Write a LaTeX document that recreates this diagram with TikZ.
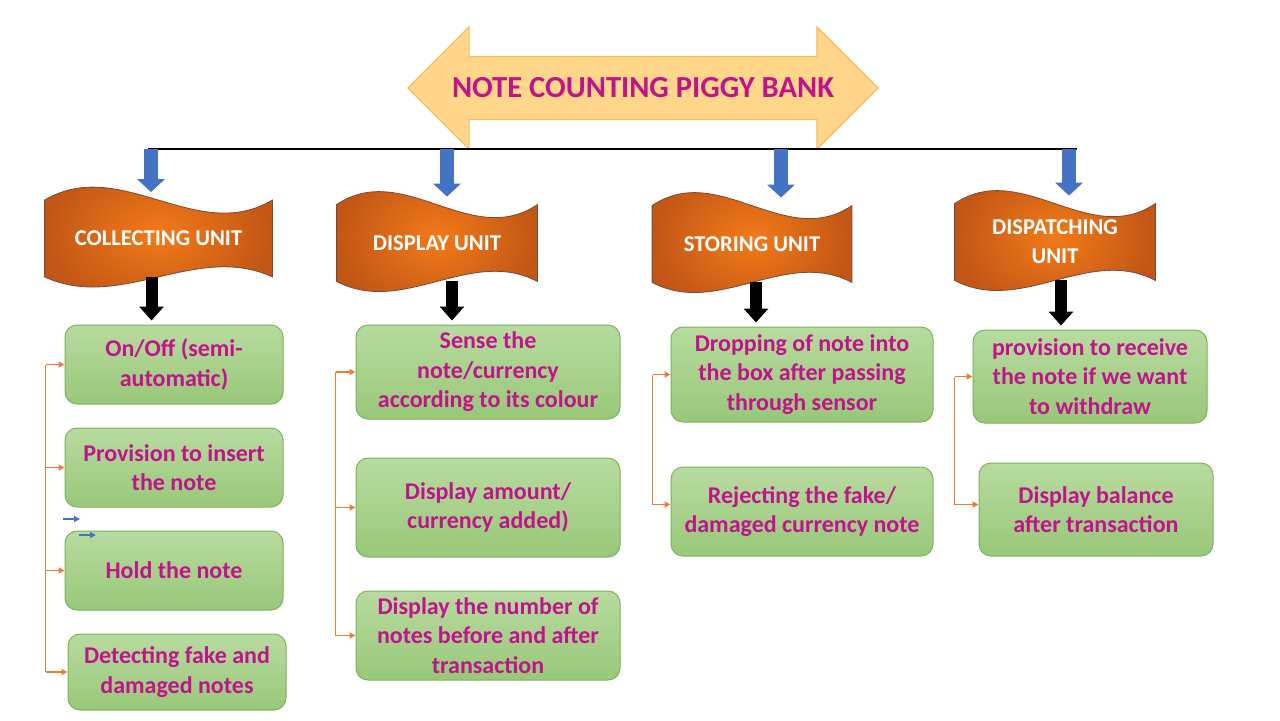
\documentclass[tikz,border=0pt]{standalone}
\usepackage{fontspec}
\setmainfont{Carlito}
\usepackage{tikz}
\usetikzlibrary{positioning,arrows.meta,shapes.arrows,calc,backgrounds}

\definecolor{notepink}{HTML}{C0148C}
\definecolor{titlefill}{HTML}{FFD68A}
\definecolor{titleline}{HTML}{F2BE5C}
\definecolor{unitlight}{HTML}{F27A18}
\definecolor{unitdark}{HTML}{C25616}
\definecolor{unitline}{HTML}{7A4A34}
\definecolor{boxtop}{HTML}{B8DBA0}
\definecolor{boxbottom}{HTML}{99C879}
\definecolor{boxline}{HTML}{7DB25C}
\definecolor{railblue}{HTML}{4472C4}
\definecolor{tieorange}{HTML}{ED7D31}

\tikzset{
  title/.style={double arrow, double arrow head extend=14.75pt,
    minimum height=235pt, inner ysep=11pt, inner xsep=4pt,
    text height=9pt, text depth=0pt, fill=titlefill, draw=titleline,
    line width=0.6pt, text=notepink, font=\bfseries\fontsize{15.3}{18}\selectfont},
  unit/.style={minimum height=38pt, inner sep=0pt, text=white, align=center,
    font=\bfseries\fontsize{11.3}{14.5}\selectfont},
  unitwave/.style={shade, inner color=unitlight, outer color=unitdark,
    draw=unitline, line width=0.4pt},
  task/.style={draw=boxline, line width=0.5pt, rounded corners=6pt,
    top color=boxtop, bottom color=boxbottom, text=notepink, align=center,
    inner sep=2pt, font=\bfseries\fontsize{12}{14.75}\selectfont},
  down/.style={line width=7pt, railblue, shorten >=4pt,
    -{Triangle[length=6.5pt,width=13.5pt]}},
  drop/.style={line width=6pt, black, shorten >=2pt,
    -{Triangle[length=7pt,width=12pt]}},
  tie/.style={tieorange, line width=0.7pt},
  tiearrow/.style={tie, -{Triangle[length=3pt,width=3pt]}},
  stray/.style={railblue, line width=0.7pt, -{Triangle[length=3pt,width=3pt]}}
}

\begin{document}
\begin{tikzpicture}[x=0.5pt,y=-0.5pt]
\useasboundingbox (0,0) rectangle (1280,720);

% title and rail
\node[title] (bank) at (643,88) {NOTE COUNTING PIGGY BANK};
\coordinate (rail-w) at (148,149);
\coordinate (rail-e) at (1077,149);
\draw[line width=1pt] (rail-w) -- (rail-e);

% units
\node[unit, minimum width=113.5pt] (u1) at (158.5,238.5) {COLLECTING UNIT};
\node[unit, minimum width=100pt] (u2) at (437,243) {DISPLAY UNIT};
\node[unit, minimum width=99.5pt] (u3) at (752,244) {STORING UNIT};
\node[unit, minimum width=100pt] (u4) at (1055,242) {DISPATCHING\\UNIT};

\begin{scope}[on background layer]
\fill[white] (0,0) rectangle (1280,720);
\foreach \u in {u1,u2,u3,u4}
  \path[unitwave] (\u.north west)
    .. controls ($(\u.north west)!1/3!(\u.north east)+(0pt,22.5pt)$)
            and ($(\u.north west)!2/3!(\u.north east)+(0pt,-22.5pt)$) .. (\u.north east)
    -- (\u.south east)
    .. controls ($(\u.south west)!2/3!(\u.south east)+(0pt,17.5pt)$)
            and ($(\u.south west)!1/3!(\u.south east)+(0pt,-17.5pt)$) .. (\u.south west)
    -- cycle;
\end{scope}

\coordinate (r1) at (151,149);
\coordinate (r2) at (447,149);
\coordinate (r3) at (781,149);
\coordinate (r4) at (1069,149);
\foreach \r/\u in {r1/u1,r2/u2,r3/u3,r4/u4}
  \draw[down] (\r) -- (\r |- \u.north);

% collecting unit
\node[task, minimum width=109pt, minimum height=39.5pt] (c1a) at (174,364.5) {On/Off (semi-\\automatic)};
\node[task, minimum width=109pt, minimum height=39.5pt, below=11.5pt of c1a] (c1b) {Provision to insert\\the note};
\node[task, minimum width=109pt, minimum height=39.5pt, below=11.5pt of c1b] (c1c) {Hold the note};
\node[task, minimum width=109pt, minimum height=38pt, below=11.5pt of c1c, xshift=1.5pt] (c1d) {Detecting fake and\\damaged notes};

% display unit
\node[task, minimum width=132pt, minimum height=47pt] (c2a) at (488,372) {Sense the\\note/currency\\according to its colour};
\node[task, minimum width=132pt, minimum height=49.5pt, below=19pt of c2a] (c2b) {Display amount/\\currency added)};
\node[task, minimum width=132pt, minimum height=44.5pt, below=16.5pt of c2b] (c2c) {Display the number of\\notes before and after\\transaction};

% storing unit
\node[task, minimum width=131pt, minimum height=47.5pt] (c3a) at (802,374.5) {Dropping of note into\\the box after passing\\through sensor};
\node[task, minimum width=131pt, minimum height=44.5pt, below=22pt of c3a] (c3b) {Rejecting the fake/\\damaged currency note};

% dispatching unit
\node[task, minimum width=117pt, minimum height=46.5pt] (c4a) at (1090,376.5) {provision to receive\\the note if we want\\to withdraw};
\node[task, minimum width=117pt, minimum height=46.5pt, below=19.5pt of c4a, xshift=3pt] (c4b) {Display balance\\after transaction};

% drops from the units
\draw[drop] ([xshift=-3.5pt]u1.south) coordinate (d1) -- (d1 |- c1a.north);
\draw[drop] ([xshift=7.5pt]u2.south) coordinate (d2) -- (d2 |- c2a.north);
\draw[drop] ([xshift=2pt]u3.south) coordinate (d3) -- (d3 |- c3a.north);
\draw[drop] ([xshift=3pt]u4.south) coordinate (d4) -- (d4 |- c4a.north);

% ties
\coordinate (k1) at ([xshift=-9.5pt]c1a.west);
\draw[tie] (k1) -- (k1 |- c1d.west);
\foreach \t in {c1a,c1b,c1c,c1d}
  \draw[tiearrow] (k1 |- \t.west) -- (\t.west);

\coordinate (k2) at ([xshift=-10pt]c2a.west);
\draw[tie] (k2) -- (k2 |- c2c.west);
\foreach \t in {c2a,c2b,c2c}
  \draw[tiearrow] (k2 |- \t.west) -- (\t.west);

\coordinate (k3) at ([xshift=-9pt]c3a.west);
\draw[tie] (k3) -- ([yshift=3.5pt]k3 |- c3b.west);
\draw[tiearrow] (k3) -- (c3a.west);
\draw[tiearrow] ([yshift=3.5pt]k3 |- c3b.west) -- ([yshift=3.5pt]c3b.west);

\coordinate (k4) at ([xshift=-9pt]c4a.west);
\draw[tie] (k4) -- ([yshift=2.5pt]k4 |- c4b.west);
\draw[tiearrow] (k4) -- (c4a.west);
\draw[tiearrow] ([yshift=2.5pt]k4 |- c4b.west) -- ([yshift=2.5pt]c4b.west);

% stray arrows
\coordinate (s1) at (63,519);
\coordinate (s1e) at (80,519);
\coordinate (s2) at (79,535);
\coordinate (s2e) at (96,535);
\draw[stray] (s1) -- (s1e);
\draw[stray] (s2) -- (s2e);

\end{tikzpicture}
\end{document}
